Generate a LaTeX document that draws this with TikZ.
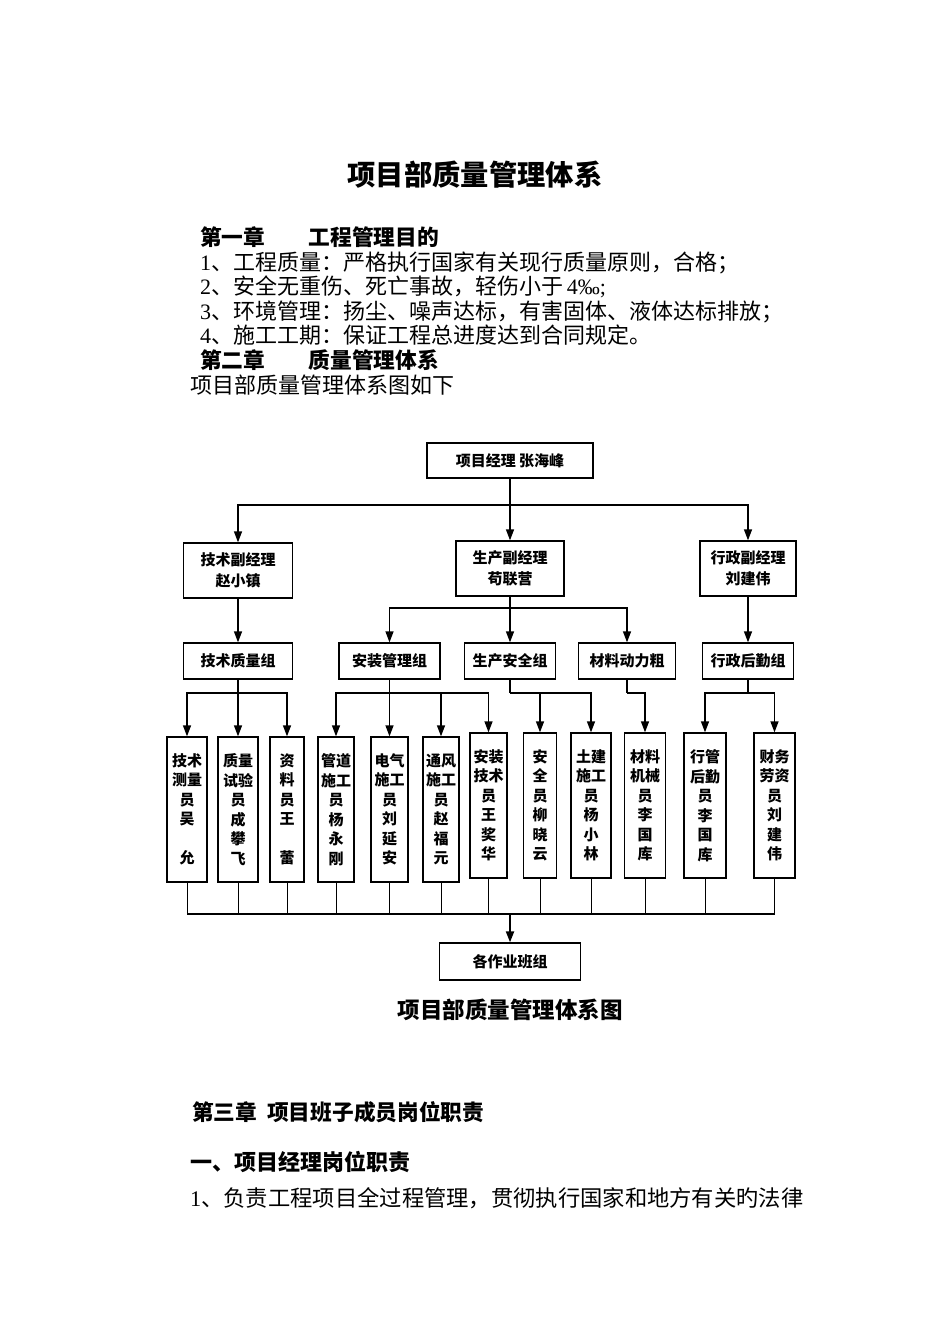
\documentclass[tikz,border=0pt]{standalone}
\usepackage{fontspec}
\setmainfont{Liberation Serif}
\newfontfamily\cjk{Noto Sans CJK SC}
\usetikzlibrary{arrows.meta}
\tikzset{
  box/.style={draw, line width=1.3pt, inner sep=0pt, align=center, font=\cjk\bfseries\fontsize{15}{21}\selectfont},
  vbox/.style={box, font=\cjk\bfseries\fontsize{15}{19.5}\selectfont, minimum height=145pt},
  arr/.style={line width=1.3pt, -{Triangle[width=8pt,length=11pt]}},
  ln/.style={line width=1.3pt},
  body/.style={inner sep=0pt, anchor=base west, font=\fontsize{22}{24.5}\selectfont},
  head/.style={inner sep=0pt, anchor=base west, font=\cjk\bfseries\fontsize{21.7}{24.5}\selectfont}
}
\begin{document}
\begin{tikzpicture}[x=1pt,y=-1pt]
\useasboundingbox (0,0) rectangle (950,1344);
% text above
\node[inner sep=0pt, anchor=base, font=\cjk\bfseries\fontsize{28.3}{30}\selectfont] (title) at (475,185.6) {项目部质量管理体系};
\node[head] (h1) at (200,245.2) {第一章　　工程管理目的};
\node[body] (l1) at (200,270.2) {1{\cjk 、工程质量：严格执行国家有关现行质量原则，合格；}};
\node[body] (l2) at (200,294.2) {2{\cjk 、安全无重伤、死亡事故，轻伤小于}\,4‰;};
\node[body] (l3) at (200,319.2) {3{\cjk 、环境管理：扬尘、噪声达标，有害固体、液体达标排放；}};
\node[body] (l4) at (200,343.2) {4{\cjk 、施工工期：保证工程总进度达到合同规定。}};
\node[head] (h2) at (200,368.2) {第二章　　质量管理体系};
\node[body, font=\cjk\fontsize{22}{24.5}\selectfont] (l5) at (190,393.2) {项目部质量管理体系图如下};

% chart boxes
\node[box, minimum width=166pt, minimum height=35pt] (pm) at (510,460.5) {项目经理 张海峰};
\node[box, minimum width=109pt, minimum height=55pt] (vt) at (238,570.5) {技术副经理\\赵小镇};
\node[box, minimum width=108pt, minimum height=55pt] (vp) at (510,568.5) {生产副经理\\苟联营};
\node[box, minimum width=96pt, minimum height=55pt] (va) at (748,568.5) {行政副经理\\刘建伟};

\node[box, minimum width=109pt, minimum height=36pt] (gt) at (238,661) {技术质量组};
\node[box, minimum width=101pt, minimum height=36pt] (gi) at (389.5,661) {安装管理组};
\node[box, minimum width=91pt, minimum height=36pt] (gs) at (510,661) {生产安全组};
\node[box, minimum width=97pt, minimum height=36pt] (gm) at (627,661) {材料动力粗};
\node[box, minimum width=91pt, minimum height=36pt] (ga) at (748,661) {行政后勤组};

\node[vbox, minimum width=40pt] (s1) at (187,809.5) {技术\\测量\\员\\吴\\\mbox{}\\允};
\node[vbox, minimum width=40pt] (s2) at (238,809.5) {质量\\试验\\员\\成\\攀\\飞};
\node[vbox, minimum width=34pt] (s3) at (287,809.5) {资\\料\\员\\王\\\mbox{}\\蕾};
\node[vbox, minimum width=36pt] (s4) at (336,809.5) {管道\\施工\\员\\杨\\永\\刚};
\node[vbox, minimum width=37pt] (s5) at (389.5,809.5) {电气\\施工\\员\\刘\\延\\安};
\node[vbox, minimum width=36pt] (s6) at (441,809.5) {通风\\施工\\员\\赵\\福\\元};
\node[vbox, minimum width=37pt] (s7) at (488.5,805.5) {安装\\技术\\员\\王\\奖\\华};
\node[vbox, minimum width=33pt] (s8) at (540,805.5) {安\\全\\员\\柳\\晓\\云};
\node[vbox, minimum width=40pt] (s9) at (591,805.5) {土建\\施工\\员\\杨\\小\\林};
\node[vbox, minimum width=41pt] (s10) at (645,805.5) {材料\\机械\\员\\李\\国\\库};
\node[vbox, minimum width=42pt] (s11) at (705,805.5) {行管\\后勤\\员\\李\\国\\库};
\node[vbox, minimum width=41pt] (s12) at (774.5,805.5) {财务\\劳资\\员\\刘\\建\\伟};

\node[box, minimum width=141pt, minimum height=37pt] (team) at (510,961.5) {各作业班组};

% connectors level 1
\coordinate (b1) at (510,505);
\draw[ln] (pm.south) -- (b1);
\draw[arr] (b1) -| (vt.north);
\draw[arr] (b1) -| (va.north);
\draw[arr] (b1) -- (vp.north);
% level 2
\draw[arr] (vt.south) -- (gt.north);
\draw[arr] (va.south) -- (ga.north);
\coordinate (b2) at (510,608);
\draw[ln] (vp.south) -- (b2);
\draw[arr] (b2) -| (gi.north);
\draw[arr] (b2) -- (gs.north);
\draw[arr] (b2) -| (gm.north);
% level 3
\coordinate (c1) at (238,693);
\draw[ln] (gt.south) -- (c1);
\draw[arr] (c1) -| (s1.north);
\draw[arr] (c1) -- (s2.north);
\draw[arr] (c1) -| (s3.north);
\coordinate (c2) at (389.5,693);
\draw[ln] (gi.south) -- (c2);
\draw[arr] (c2) -| (s4.north);
\draw[arr] (c2) -- (s5.north);
\draw[arr] (c2) -| (s6.north);
\draw[arr] (c2) -| (s7.north);
\coordinate (c3) at (510,693);
\draw[ln] (gs.south) -- (c3);
\draw[arr] (c3) -| (s8.north);
\draw[arr] (c3) -| (s9.north);
\coordinate (c4) at (627,693);
\draw[ln] (gm.south) -- (c4);
\draw[arr] (c4) -| (s10.north);
\coordinate (c5) at (748,693);
\draw[ln] (ga.south) -- (c5);
\draw[arr] (c5) -| (s11.north);
\draw[arr] (c5) -| (s12.north);
% bottom bus
\coordinate (bb) at (510,914);
\foreach \i in {1,...,12} {\draw[line width=1pt] (s\i.south) -- (s\i.south |- bb);}
\draw[line width=1.8pt] (s1.south |- bb) -- (s12.south |- bb);
\draw[line width=2pt, -{Triangle[width=8pt,length=11pt]}] (bb) -- (team.north);

% text below
\node[inner sep=0pt, anchor=base, font=\cjk\bfseries\fontsize{22.5}{24}\selectfont] (cap) at (510,1018.4) {项目部质量管理体系图};
\node[head, font=\cjk\bfseries\fontsize{21.7}{24}\selectfont] (h3) at (192,1120.4) {第三章\ \ 项目班子成员岗位职责};
\node[head, font=\cjk\bfseries\fontsize{22}{24}\selectfont] (h4) at (190,1170.4) {一、项目经理岗位职责};
\node[body, font=\fontsize{22.3}{24}\selectfont] (l6) at (190,1206.4) {1{\cjk 、负责工程项目全过程管理，贯彻执行国家和地方有关旳法律}};
\end{tikzpicture}
\end{document}
